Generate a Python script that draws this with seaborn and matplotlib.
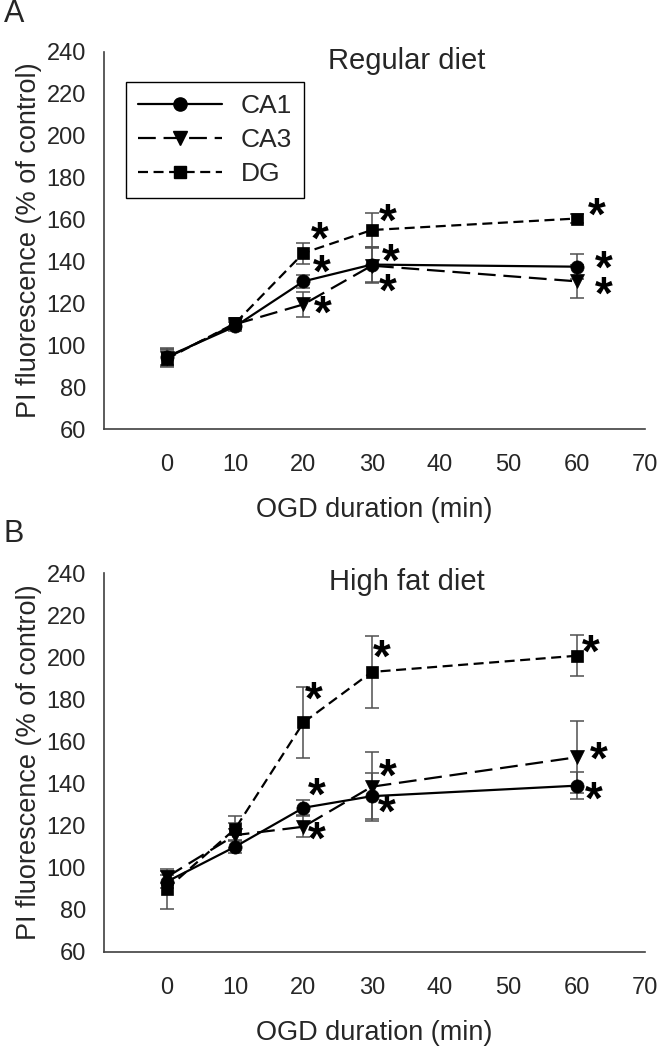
import numpy as np
import pandas as pd
import matplotlib
matplotlib.use("Agg")
import matplotlib.pyplot as plt
from matplotlib.lines import Line2D
import seaborn as sns

# ---------------- data ----------------
time_min = [0, 10, 20, 30, 60]
regions = ["CA1", "CA3", "DG"]

reg_CA1 = [94.5, 109, 130.5, 138.5, 137.5]
reg_CA1_err = [4, 2, 3, 8.5, 6]
reg_CA3 = [94, 110, 119.5, 138, 130.5]
reg_CA3_err = [4, 2, 6, 8.5, 8]
reg_DG = [93.5, 110.5, 144, 155, 160.5]
reg_DG_err = [4, 2, 5, 8, 2]

hf_CA1 = [93.4, 110, 128.5, 134, 139]
hf_CA1_err = [3, 3, 3.5, 11, 6.5]
hf_CA3 = [95.6, 115.5, 119.5, 138.5, 152.5]
hf_CA3_err = [3, 6, 5, 16.5, 17]
hf_DG = [90, 118.5, 169, 193, 200.7]
hf_DG_err = [9.5, 6, 17, 17, 9.7]

# time points marked significant (*)
sig_times = [20, 30, 60]

y_ticks = [60, 80, 100, 120, 140, 160, 180, 200, 220, 240]
x_ticks = [0, 10, 20, 30, 40, 50, 60, 70]

titles = ["Regular diet", "High fat diet"]
panel_letters = ["A", "B"]
xlabel = "OGD duration (min)"
ylabel = "PI fluorescence (% of control)"

# ---------------- style ----------------
sns.set_style("white")
plt.rcParams["font.family"] = ["Liberation Sans", "DejaVu Sans"]

markers = {"CA1": "o", "CA3": "v", "DG": "s"}
msizes = {"CA1": 9.5, "CA3": 9.5, "DG": 8}
dashes = {"CA1": "", "CA3": (8, 3.5), "DG": (4.5, 2.5)}

# asterisk offsets in pixels (dx right, dy down) relative to point
ast_off = [
    {"CA1": [(18, -14), (19, -8), (27, -3)],
     "CA3": [(19, 4), (16, 21), (27, 8)],
     "DG": [(16, -19), (16, -14), (20, -8)]},
    {"CA1": [(13, -17), (15, 11), (17, 9)],
     "CA3": [(13, 8), (16, -15), (22, -3)],
     "DG": [(10, -28), (10, -20), (14, -8)]},
]

fig = plt.figure(figsize=(6.63, 10.5), dpi=100)
W, H = 663, 1050
axA = fig.add_axes([104 / W, 1 - 429 / H, 541 / W, 377 / H])
axB = fig.add_axes([104 / W, 1 - 952 / H, 541 / W, 379 / H])

panels = [
    (axA, {"CA1": (reg_CA1, reg_CA1_err), "CA3": (reg_CA3, reg_CA3_err), "DG": (reg_DG, reg_DG_err)}),
    (axB, {"CA1": (hf_CA1, hf_CA1_err), "CA3": (hf_CA3, hf_CA3_err), "DG": (hf_DG, hf_DG_err)}),
]

ast_fs = 33
tick_fs = 17
label_fs = 19.5
title_fs = 21
spine_col = "#404040"

for pi, (ax, series) in enumerate(panels):
    rows = []
    for r in regions:
        vals, errs = series[r]
        for t, v in zip(time_min, vals):
            rows.append({"time": t, "value": v, "region": r})
    df = pd.DataFrame(rows)

    # error bars
    for r in regions:
        vals, errs = series[r]
        ax.errorbar(time_min, vals, yerr=errs, fmt="none", ecolor="#505050",
                    elinewidth=1.1, capsize=5, capthick=1.1, zorder=1.5)

    for r in regions:
        sub = df[df["region"] == r]
        sns.lineplot(data=sub, x="time", y="value", color="black",
                     marker=markers[r], markersize=msizes[r],
                     dashes=False, linewidth=1.6, ax=ax, legend=False,
                     markeredgecolor="black", markeredgewidth=0.5,
                     linestyle=(0, dashes[r]) if dashes[r] else "-",
                     zorder=3)

    # asterisks
    for r in regions:
        vals, _ = series[r]
        for k, t in enumerate(sig_times):
            v = vals[time_min.index(t)]
            dx, dy = ast_off[pi][r][k]
            ax.annotate("*", xy=(t, v),
                        xytext=(dx / 1.389, -dy / 1.389 - 0.42 * ast_fs),
                        textcoords="offset points", ha="center", va="baseline",
                        fontsize=ast_fs, fontweight="bold", color="black", zorder=5)

    ax.set_xlim(-9.2, 70)
    ax.set_ylim(60, 240)
    ax.set_xticks(x_ticks)
    ax.set_yticks(y_ticks)
    ax.set_xticklabels([str(x) for x in x_ticks], fontsize=tick_fs)
    ax.set_yticklabels([str(y) for y in y_ticks], fontsize=tick_fs)
    ax.tick_params(axis="x", direction="out", length=5, width=1.1, color=spine_col, pad=13)
    ax.tick_params(axis="y", direction="out", length=5, width=1.1, color=spine_col, pad=8)
    for s in ["top", "right"]:
        ax.spines[s].set_visible(False)
    for s in ["left", "bottom"]:
        ax.spines[s].set_color(spine_col)
        ax.spines[s].set_linewidth(1.2)
    ax.set_xlabel(xlabel, fontsize=label_fs, labelpad=15)
    ax.set_ylabel(ylabel, fontsize=label_fs, labelpad=3)
    ax.text(0.56, 0.977, titles[pi], transform=ax.transAxes, ha="center",
            va="center", fontsize=title_fs)
    ax.grid(False)

fig.text(4 / W, 1 - 14 / H, panel_letters[0], fontsize=22, ha="left", va="center")
fig.text(4 / W, 1 - 534 / H, panel_letters[1], fontsize=22, ha="left", va="center")

handles = []
for r in regions:
    handles.append(Line2D([0], [0], color="black", lw=1.6,
                          linestyle=(0, dashes[r]) if dashes[r] else "-",
                          marker=markers[r], markersize=msizes[r],
                          markeredgecolor="black"))
leg = axA.legend(handles, regions, loc="upper left",
                 bbox_to_anchor=(126 / W, 1 - 82 / H), bbox_transform=fig.transFigure,
                 fontsize=19, handlelength=3.2, handletextpad=0.7,
                 labelspacing=0.38, borderpad=0.45, borderaxespad=0,
                 fancybox=False, framealpha=1, edgecolor="black")
leg.get_frame().set_linewidth(1.0)

fig.savefig("out.png", dpi=100)
